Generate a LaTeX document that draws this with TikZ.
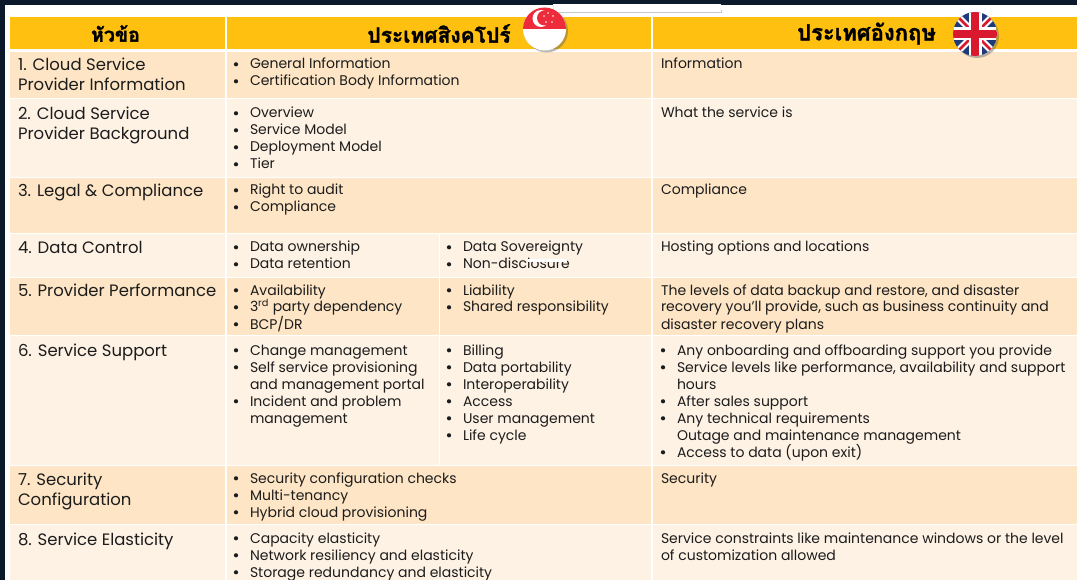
\documentclass[tikz,border=0pt]{standalone}
\usepackage{fontspec}
\setmainfont{Poppins}
\newfontfamily\thaifont[Script=Thai,BoldFeatures={FakeBold=1.6}]{Loma}
\definecolor{pagedark}{HTML}{0B1A2B}
\definecolor{headgold}{HTML}{FFC010}
\definecolor{rowa}{HTML}{FDE5C5}
\definecolor{rowb}{HTML}{FEF2E5}
\definecolor{ink}{HTML}{1C1C1C}
\definecolor{sgred}{HTML}{EE2B3B}
\definecolor{ukblue}{HTML}{1F3A7A}
\definecolor{ukred}{HTML}{D9192E}
\tikzset{
  x=1pt,y=-1pt,
  body/.style={anchor=base west,inner sep=0pt,outer sep=0pt,text=ink,font=\fontsize{14}{17}\selectfont},
  topic/.style={anchor=base west,inner sep=0pt,outer sep=0pt,text=ink,font=\fontsize{16.5}{19}\selectfont},
  heading/.style={anchor=center,inner sep=0pt,text=black,font=\thaifont\bfseries\fontsize{#1}{25}\selectfont},
  dotmark/.style={circle,fill=ink,draw=none,inner sep=0pt,outer sep=0pt,minimum size=4.2pt},
  flagshadow/.style={fill=black!60,opacity=.45},
}
% \li{name}{x of text}{baseline y}{text}
\newcommand{\li}[4]{%
  \node[body] (#1) at (#2,#3) {#4};
  \node[dotmark] (#1b) at ([xshift=-14pt,yshift=4.7pt]#1.base west) {};
}
\newcommand{\tx}[4]{\node[body] (#1) at (#2,#3) {#4};}
\newcommand{\tp}[4]{\node[topic] (#1) at (#2,#3) {#4};}
\newcommand{\cell}[5]{\fill[#5] (#1,#2) rectangle (#3,#4);}
\begin{document}
\begin{tikzpicture}
\useasboundingbox (0,0) rectangle (1077,580);
\fill[pagedark] (0,0) rectangle (1077,580);
\fill[white] (5,5) rectangle (1077,580);
% paper sliver at the top
\fill[black!22] (553,10) rectangle (721.5,13);
\fill[white] (553,4) rectangle (720.5,12);
\draw[black!12,line width=.5pt] (553,5) -- (553,12);
% header
\cell{10}{17}{224.5}{49}{headgold}
\cell{226.5}{17}{651}{49}{headgold}
\cell{653}{17}{1077}{49}{headgold}
% rows
\foreach \ya/\yb/\c in {52/98/rowa,99/177/rowb,178/233/rowa,234/277/rowb,278/335/rowa,336/465/rowb,466/524/rowa,525/580/rowb}{
  \fill[\c] (10,\ya) rectangle (224.5,\yb);
  \fill[\c] (226.5,\ya) rectangle (651,\yb);
  \fill[\c] (653,\ya) rectangle (1077,\yb);
}
\draw[white,line width=.8pt] (439,234) -- (439,465);
% headings
\node[heading=19.5] (h1) at (115.5,33.5) {หัวข้อ};
\node[heading=21] (h2) at (439,33.5) {ประเทศสิงคโปร์};
\node[heading=22] (h3) at (866.5,33.5) {ประเทศอังกฤษ};
% flags
\fill[flagshadow] (546.5,31) circle (21.5);
\begin{scope}
  \clip (544.5,29) circle (21.5);
  \fill[white] (523,7) rectangle (566,51);
  \fill[sgred] (523,7) rectangle (566,29.5);
  \fill[white] (541,18.5) circle (8.5);
  \fill[sgred] (544.5,18) circle (7.5);
\end{scope}
\foreach \a/\b in {548/13,553/16,552/22,546/22,544/16}{\fill[white] (\a,\b) circle (.9);}
\fill[flagshadow] (977,36) circle (22);
\begin{scope}
  \clip (975,34) circle (22);
  \fill[ukblue] (953,12) rectangle (997,56);
  \draw[white,line width=7pt] (953,12) -- (997,56) (953,56) -- (997,12);
  \draw[ukred,line width=2.6pt] (953,12) -- (997,56) (953,56) -- (997,12);
  \draw[white,line width=13pt] (975,12) -- (975,56) (953,34) -- (997,34);
  \draw[ukred,line width=8pt] (975,12) -- (975,56) (953,34) -- (997,34);
\end{scope}
% topics
\tp{t1a}{18}{71}{1. Cloud Service}
\tp{t1b}{18}{91}{Provider Information}
\tp{t2a}{18}{120}{2. Cloud Service}
\tp{t2b}{18}{140}{Provider Background}
\tp{t3}{18}{197}{3. Legal \& Compliance}
\tp{t4}{18}{254}{4. Data Control}
\tp{t5}{18}{297}{5. Provider Performance}
\tp{t6}{18}{356}{6. Service Support}
\tp{t7a}{18}{485}{7. Security}
\tp{t7b}{18}{505}{Configuration}
\tp{t8}{18}{545}{8. Service Elasticity}
% Singapore column
\li{a1}{250}{69}{General Information}
\li{a2}{250}{86}{Certification Body Information}
\li{b1}{250}{118}{Overview}
\li{b2}{250}{135}{Service Model}
\li{b3}{250}{152}{Deployment Model}
\li{b4}{250}{169}{Tier}
\li{c1}{250}{195}{Right to audit}
\li{c2}{250}{212}{Compliance}
\li{d1}{250}{252}{Data ownership}
\li{d2}{250}{269}{Data retention}
\li{d3}{463}{252}{Data Sovereignty}
\li{d4}{463}{269}{Non-disclosure}
\li{e1}{250}{295}{Availability}
\li{e2}{250}{312}{3\textsuperscript{rd} party dependency}
\li{e3}{250}{329}{BCP/DR}
\li{e4}{463}{295}{Liability}
\li{e5}{463}{312}{Shared responsibility}
\li{f1}{250}{355}{Change management}
\li{f2}{250}{372}{Self service provisioning}
\tx{f2c}{250}{389}{and management portal}
\li{f3}{250}{406}{Incident and problem}
\tx{f3c}{250}{423}{management}
\li{f4}{463}{355}{Billing}
\li{f5}{463}{372}{Data portability}
\li{f6}{463}{389}{Interoperability}
\li{f7}{463}{406}{Access}
\li{f8}{463}{423}{User management}
\li{f9}{463}{440}{Life cycle}
\li{g1}{250}{483}{Security configuration checks}
\li{g2}{250}{500}{Multi-tenancy}
\li{g3}{250}{517}{Hybrid cloud provisioning}
\li{h1x}{250}{543}{Capacity elasticity}
\li{h2x}{250}{560}{Network resiliency and elasticity}
\li{h3x}{250}{577}{Storage redundancy and elasticity}
% England column
\tx{r1}{661}{69}{Information}
\tx{r2}{661}{118}{What the service is}
\tx{r3}{661}{195}{Compliance}
\tx{r4}{661}{252}{Hosting options and locations}
\tx{r5a}{661}{295}{The levels of data backup and restore, and disaster}
\tx{r5b}{661}{312}{recovery you’ll provide, such as business continuity and}
\tx{r5c}{661}{329}{disaster recovery plans}
\li{r6a}{677}{355}{Any onboarding and offboarding support you provide}
\li{r6b}{677}{372}{Service levels like performance, availability and support}
\tx{r6c}{677}{389}{hours}
\li{r6d}{677}{406}{After sales support}
\li{r6e}{677}{423}{Any technical requirements}
\tx{r6f}{677}{440}{Outage and maintenance management}
\li{r6g}{677}{457}{Access to data (upon exit)}
\tx{r7}{661}{483}{Security}
\tx{r8a}{661}{543}{Service constraints like maintenance windows or the level}
\tx{r8b}{661}{560}{of customization allowed}
% smear over Non-disclosure
\fill[white] (528,259) rectangle (567,262);
\end{tikzpicture}
\end{document}
